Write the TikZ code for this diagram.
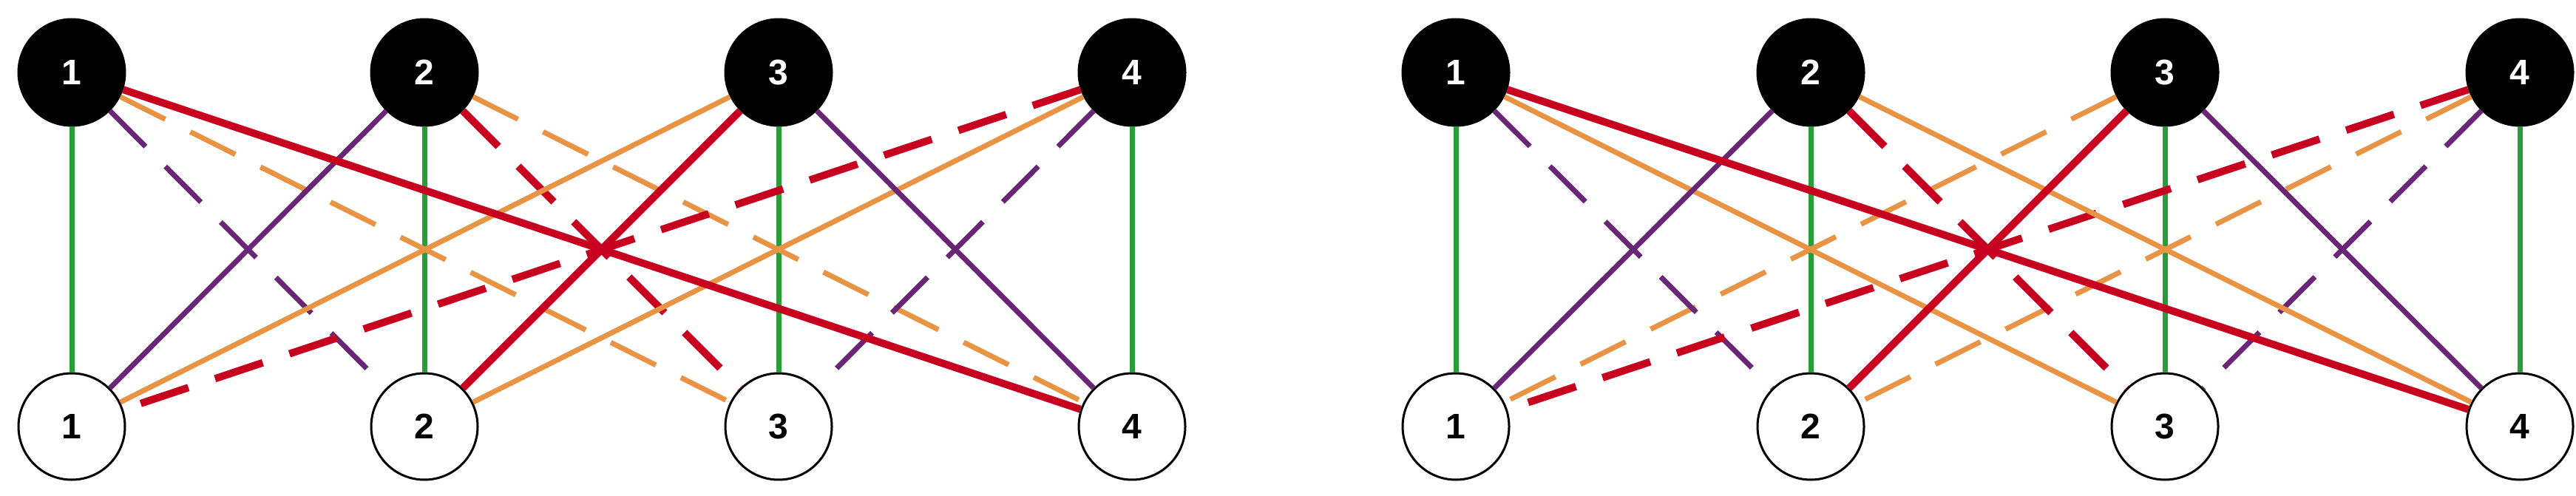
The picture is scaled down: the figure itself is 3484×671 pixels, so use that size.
\documentclass[tikz,border=0pt]{standalone}
\usepackage{fontspec}
\setmainfont{Liberation Sans}
\definecolor{eg}{RGB}{40,158,58}
\definecolor{er}{RGB}{200,0,32}
\definecolor{ep}{RGB}{106,38,118}
\definecolor{eo}{RGB}{232,148,68}
\begin{document}
\begin{tikzpicture}[x=1pt,y=-1pt,
  topn/.style={circle,fill=black,draw=black,line width=3pt,minimum size=144pt,inner sep=0pt,text=white,font=\fontsize{48}{50}\selectfont\bfseries},
  botn/.style={circle,fill=white,draw=black,line width=3pt,minimum size=144pt,inner sep=0pt,text=black,font=\fontsize{48}{50}\selectfont\bfseries},
  gr/.style={eg,line width=7pt},
  rs/.style={er,line width=10pt},
  rd/.style={er,line width=10pt,dash pattern=on 68pt off 38pt},
  ps/.style={ep,line width=7pt},
  pd/.style={ep,line width=7pt,dash pattern=on 68pt off 38pt},
  os/.style={eo,line width=7pt},
  od/.style={eo,line width=7pt,dash pattern=on 68pt off 38pt}]
\useasboundingbox (0,0) rectangle (3484,671);
\foreach \i/\x in {1/97,2/574,3/1053,4/1531}{
  \node[topn] (a\i) at (\x,98) {\i};
  \node[botn] (b\i) at (\x,577) {\i};
}
\foreach \i/\x in {1/1969,2/2449,3/2928,4/3408}{
  \node[topn] (c\i) at (\x,98) {\i};
  \node[botn] (d\i) at (\x,577) {\i};
}
% left edges
\foreach \i in {1,2,3,4}{\draw[gr] (a\i) -- (b\i); \draw[gr] (c\i) -- (d\i);}
\draw[od] (a1) -- (b3);
\draw[od] (a2) -- (b4);
\draw[pd] (a1) -- (b2);
\draw[pd] (a4) -- (b3);
\draw[rd] (a4) -- (b1);
\draw[rd] (a2) -- (b3);
\draw[os] (a3) -- (b1);
\draw[os] (a4) -- (b2);
\draw[ps] (a2) -- (b1);
\draw[ps] (a3) -- (b4);
\draw[rs] (a1) -- (b4);
\draw[rs] (a3) -- (b2);
% right edges
\draw[od] (c3) -- (d1);
\draw[od] (c4) -- (d2);
\draw[pd] (c1) -- (d2);
\draw[pd] (c4) -- (d3);
\draw[rd] (c4) -- (d1);
\draw[rd] (c2) -- (d3);
\draw[os] (c1) -- (d3);
\draw[os] (c2) -- (d4);
\draw[ps] (c2) -- (d1);
\draw[ps] (c3) -- (d4);
\draw[rs] (c1) -- (d4);
\draw[rs] (c3) -- (d2);
\end{tikzpicture}
\end{document}
